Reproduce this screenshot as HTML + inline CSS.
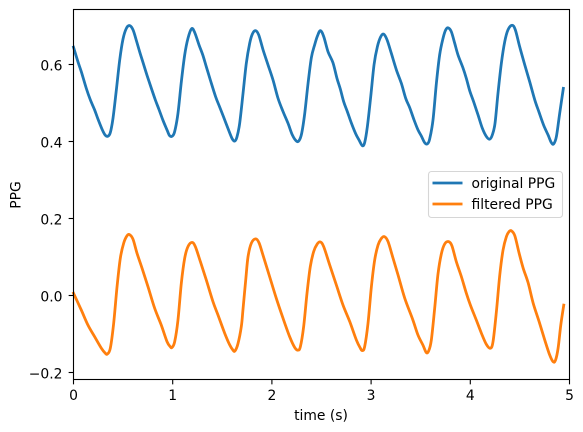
<!DOCTYPE html>
<html>
<head>
<meta charset="utf-8">
<title>PPG chart</title>
<style>
html,body{margin:0;padding:0;background:#fff;width:583px;height:432px;overflow:hidden}
svg{display:block}
text{font-family:"DejaVu Sans","Liberation Sans",sans-serif;font-size:13.89px;fill:#000}
</style>
</head>
<body>
<svg id="chart" xmlns="http://www.w3.org/2000/svg" width="583" height="432" viewBox="0 0 583 432">
  <g id="series-layer"></g>
  <g id="axis-layer"></g>
  <text x="321" y="420" text-anchor="middle">time (s)</text>
  <text transform="translate(20.5,195) rotate(-90)" text-anchor="middle">PPG</text>
  <g>
    <rect x="428.5" y="171.5" width="134" height="46" rx="3" ry="3" fill="#fff" fill-opacity="0.8" stroke="#d6d6d6" stroke-width="1.1"/>
    <line x1="432.5" y1="183" x2="462.5" y2="183" stroke="#1f77b4" stroke-width="2.78"/>
    <text x="471.5" y="188">original PPG</text>
    <line x1="432.5" y1="204" x2="462.5" y2="204" stroke="#ff7f0e" stroke-width="2.78"/>
    <text x="471.5" y="209">filtered PPG</text>
  </g>
</svg>
<script>
const xTicks = [0, 1, 2, 3, 4, 5];
const xTickLabels = ["0", "1", "2", "3", "4", "5"];
const yTicks = [-0.2, 0, 0.2, 0.4, 0.6];
const yTickLabels = ["\u22120.2", "0.0", "0.2", "0.4", "0.6"];

const originalTimes = [0,.045,.079,.129,.17,.213,.247,.291,.321,.348,.371,.398,.432,.466,.499,.533,.566,.6,.634,.667,.701,.741,.785,.825,.862,.902,.946,.969,.996,1.02,1.053,1.087,1.121,1.154,1.191,1.222,1.265,1.303,1.339,1.379,1.433,1.473,1.514,1.557,1.598,1.625,1.648,1.675,1.709,1.742,1.776,1.803,1.833,1.867,1.911,1.961,2.011,2.062,2.112,2.163,2.206,2.247,2.273,2.3,2.331,2.364,2.398,2.432,2.459,2.489,2.523,2.566,2.615,2.656,2.69,2.724,2.76,2.801,2.845,2.878,2.912,2.935,2.962,2.996,3.03,3.063,3.097,3.127,3.161,3.204,3.255,3.305,3.349,3.389,3.433,3.473,3.507,3.54,3.567,3.59,3.624,3.658,3.691,3.725,3.752,3.779,3.809,3.843,3.876,3.925,3.96,3.994,4.034,4.078,4.122,4.162,4.195,4.222,4.249,4.279,4.313,4.347,4.38,4.421,4.454,4.498,4.549,4.599,4.65,4.693,4.74,4.784,4.817,4.841,4.868,4.901,4.938];
const originalValues = [.645,.607,.581,.538,.508,.482,.458,.43,.416,.414,.423,.46,.534,.612,.666,.694,.701,.69,.662,.633,.605,.572,.538,.508,.483,.455,.428,.415,.414,.426,.473,.555,.625,.668,.693,.683,.651,.625,.594,.56,.516,.49,.463,.434,.408,.401,.412,.447,.525,.603,.655,.679,.688,.677,.638,.599,.56,.512,.478,.447,.417,.401,.402,.421,.473,.55,.618,.652,.674,.688,.672,.633,.605,.564,.536,.503,.478,.448,.42,.404,.389,.397,.438,.516,.6,.646,.672,.679,.664,.629,.586,.551,.512,.488,.456,.43,.414,.397,.394,.406,.456,.551,.625,.668,.69,.695,.685,.655,.625,.592,.564,.532,.503,.469,.434,.413,.406,.417,.447,.525,.603,.659,.69,.702,.69,.646,.599,.555,.508,.476,.442,.417,.397,.394,.413,.473,.538];

const filteredTimes = [.0,.079,.146,.213,.281,.321,.341,.371,.405,.439,.472,.506,.539,.566,.6,.64,.691,.751,.818,.885,.943,.976,.993,1.02,1.053,1.087,1.121,1.154,1.195,1.228,1.279,1.339,1.406,1.457,1.524,1.574,1.608,1.628,1.658,1.692,1.709,1.736,1.759,1.793,1.836,1.87,1.91,1.977,2.044,2.112,2.179,2.23,2.263,2.287,2.32,2.354,2.387,2.421,2.455,2.488,2.522,2.583,2.65,2.717,2.785,2.852,2.892,2.912,2.935,2.969,3.003,3.036,3.07,3.103,3.134,3.171,3.221,3.272,3.339,3.419,3.473,3.523,3.556,3.58,3.607,3.641,3.674,3.708,3.742,3.782,3.815,3.859,3.91,3.96,4.001,4.061,4.112,4.162,4.202,4.229,4.263,4.297,4.33,4.364,4.391,4.415,4.449,4.492,4.533,4.583,4.634,4.694,4.751,4.801,4.835,4.859,4.885,4.912,4.942];
const filteredValues = [.006,-.038,-.077,-.107,-.137,-.15,-.152,-.137,-.072,.023,.097,.136,.155,.158,.146,.11,.071,.023,-.033,-.077,-.12,-.133,-.135,-.12,-.064,.032,.097,.127,.138,.127,.088,.04,-.016,-.051,-.098,-.128,-.142,-.144,-.125,-.08,-.035,.04,.1,.136,.147,.137,.105,.049,-.007,-.059,-.107,-.135,-.142,-.133,-.081,.006,.075,.114,.133,.139,.127,.079,.027,-.025,-.068,-.116,-.137,-.143,-.133,-.072,.023,.092,.131,.148,.153,.14,.097,.053,-.007,-.062,-.103,-.129,-.148,-.144,-.116,-.033,.055,.108,.134,.14,.129,.088,.049,.006,-.025,-.064,-.098,-.127,-.137,-.12,-.042,.053,.118,.153,.166,.168,.155,.11,.071,.033,-.02,-.068,-.116,-.155,-.172,-.168,-.137,-.077,-.025];

const plotLeft = 73.5, plotRight = 569.5, plotTop = 9.5, plotBottom = 379.5;
const xDomainMax = 5;
const yZeroPixel = 295.5, yPixelsPerUnit = 385;
const NS = "http://www.w3.org/2000/svg";
const tickLength = 4.86;

function xScale(t) { return plotLeft + (plotRight - plotLeft) * t / xDomainMax; }
function yScale(v) { return yZeroPixel - yPixelsPerUnit * v; }

function linePath(times, values) {
  const p = times.map((t, i) => [xScale(t), yScale(values[i])]);
  let d = "M" + p[0][0].toFixed(2) + " " + p[0][1].toFixed(2);
  for (let i = 0; i < p.length - 1; i++) {
    const a = p[Math.max(i - 1, 0)], b = p[i], c = p[i + 1], e = p[Math.min(i + 2, p.length - 1)];
    const c1x = b[0] + (c[0] - a[0]) / 6, c1y = b[1] + (c[1] - a[1]) / 6;
    const c2x = c[0] - (e[0] - b[0]) / 6, c2y = c[1] - (e[1] - b[1]) / 6;
    d += "C" + c1x.toFixed(2) + " " + c1y.toFixed(2) + " " + c2x.toFixed(2) + " " + c2y.toFixed(2) + " " + c[0].toFixed(2) + " " + c[1].toFixed(2);
  }
  return d;
}

function makeEl(tag, parent, props) {
  const el = document.createElementNS(NS, tag);
  for (const k in props) el.setAttribute(k, props[k]);
  parent.appendChild(el);
  return el;
}

const seriesLayer = document.getElementById("series-layer");
const axisLayer = document.getElementById("axis-layer");

const originalLine = makeEl("path", seriesLayer, { d: linePath(originalTimes, originalValues), fill: "none", stroke: "#1f77b4", "stroke-width": 2.78, "stroke-linejoin": "round", "stroke-linecap": "square" });



const filteredLine = makeEl("path", seriesLayer, { d: linePath(filteredTimes, filteredValues), fill: "none", stroke: "#ff7f0e", "stroke-width": 2.78, "stroke-linejoin": "round", "stroke-linecap": "square" });



const frame = makeEl("rect", axisLayer, { x: plotLeft, y: plotTop, width: plotRight - plotLeft, height: plotBottom - plotTop, fill: "none", stroke: "#000", "stroke-width": 1.11 });



xTicks.forEach((t, i) => {
  const x = xScale(t);
  const tick = makeEl("line", axisLayer, { x1: x, x2: x, y1: plotBottom, y2: plotBottom + tickLength, stroke: "#000", "stroke-width": 1.11 });
  
  
  const label = makeEl("text", axisLayer, { x: x, y: 400, "text-anchor": "middle" });
  label.textContent = xTickLabels[i];
  
  
});

yTicks.forEach((v, i) => {
  const y = Math.round(yScale(v) - 0.5) + 0.5;
  const tick = makeEl("line", axisLayer, { x1: plotLeft - tickLength, x2: plotLeft, y1: y, y2: y, stroke: "#000", "stroke-width": 1.11 });
  
  
  const label = makeEl("text", axisLayer, { x: 62.5, y: y + 6, "text-anchor": "end" });
  label.textContent = yTickLabels[i];
  
  
});
</script>
</body>
</html>
